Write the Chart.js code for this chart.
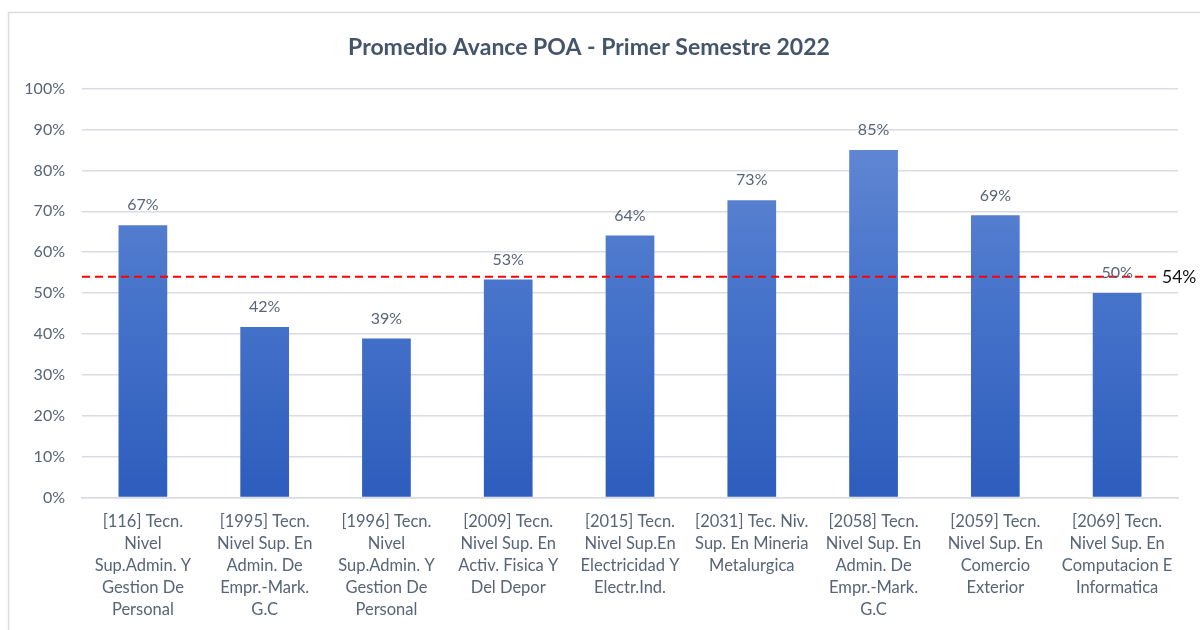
<!DOCTYPE html>
<html><head><meta charset="utf-8">
<script src="https://cdn.jsdelivr.net/npm/chart.js@4/dist/chart.umd.min.js"></script>
<style>html,body{margin:0;padding:0;background:#fff}#wrap{width:1200px;height:630px}</style>
</head><body><div id="wrap"><canvas id="c" width="1200" height="630"></canvas></div>
<script>
const categories = [
  ["[116] Tecn.","Nivel","Sup.Admin. Y","Gestion De","Personal"],
  ["[1995] Tecn.","Nivel Sup. En","Admin. De","Empr.-Mark.","G.C"],
  ["[1996] Tecn.","Nivel","Sup.Admin. Y","Gestion De","Personal"],
  ["[2009] Tecn.","Nivel Sup. En","Activ. Fisica Y","Del Depor"],
  ["[2015] Tecn.","Nivel Sup.En","Electricidad Y","Electr.Ind."],
  ["[2031] Tec. Niv.","Sup. En Mineria","Metalurgica"],
  ["[2058] Tecn.","Nivel Sup. En","Admin. De","Empr.-Mark.","G.C"],
  ["[2059] Tecn.","Nivel Sup. En","Comercio","Exterior"],
  ["[2069] Tecn.","Nivel Sup. En","Computacion E","Informatica"]
];
const avance = [66.6, 41.7, 38.9, 53.3, 64.1, 72.7, 85.0, 69.0, 50.0];
const referenceLine = [54];
const yTicks = [0,10,20,30,40,50,60,70,80,90,100];
const titleText = "Promedio Avance POA - Primer Semestre 2022";

const FONT = "Lato, 'Open Sans', sans-serif";
const TXT = "#586477";

const framePlugin = {
  id: 'frame',
  beforeDraw(chart) {
    const ctx = chart.ctx;
    ctx.save();
    ctx.strokeStyle = '#d9dce2';
    ctx.lineWidth = 1.5;
    ctx.strokeRect(8.5, 12.5, 1200, 640);
    ctx.restore();
  }
};

const refLinePlugin = {
  id: 'refLine',
  afterDatasetsDraw(chart) {
    const ctx = chart.ctx, y = chart.scales.y, a = chart.chartArea;
    referenceLine.forEach(v => {
      const py = y.getPixelForValue(v);
      ctx.save();
      ctx.strokeStyle = '#ff0000';
      ctx.lineWidth = 2;
      ctx.setLineDash([8, 5]);
      ctx.beginPath();
      ctx.moveTo(a.left, py);
      ctx.lineTo(a.right - 20, py);
      ctx.stroke();
      ctx.setLineDash([]);
      ctx.fillStyle = '#111';
      ctx.font = "17.5px " + FONT;
      ctx.textAlign = 'left';
      ctx.textBaseline = 'middle';
      ctx.fillText(Math.round(v) + '%', a.right - 16, py + 1);
      ctx.restore();
    });
  }
};

const labelPlugin = {
  id: 'barLabels',
  afterDatasetsDraw(chart) {
    const ctx = chart.ctx;
    const meta = chart.getDatasetMeta(0);
    ctx.save();
    ctx.fillStyle = TXT;
    ctx.font = "16px " + FONT;
    ctx.textAlign = 'center';
    ctx.textBaseline = 'middle';
    meta.data.forEach((bar, i) => {
      ctx.fillText(Math.round(avance[i]) + '%', bar.x, bar.y - 20);
    });
    ctx.restore();
  }
};

const ctx = document.getElementById('c').getContext('2d');
new Chart(ctx, {
  type: 'bar',
  data: {
    labels: categories,
    datasets: [{
      data: avance,
      backgroundColor: (c) => {
        const a = c.chart.chartArea;
        if (!a) return '#4472c4';
        const g = c.chart.ctx.createLinearGradient(0, a.top, 0, a.bottom);
        g.addColorStop(0, '#6a8ed4');
        g.addColorStop(0.45, '#4a76cc');
        g.addColorStop(1, '#2d5dbd');
        return g;
      },
      barPercentage: 0.4,
      categoryPercentage: 1.0,
      borderWidth: 0
    }]
  },
  options: {
    responsive: false,
    animation: false,
    devicePixelRatio: 1,
    layout: { padding: { left: 0, right: 22, top: 0, bottom: 0 } },
    plugins: {
      legend: { display: false },
      tooltip: { enabled: false },
      title: {
        display: true,
        text: titleText,
        color: '#44546a',
        font: { family: FONT, size: 23, weight: 'bold' },
        padding: { top: 34, bottom: 27 }
      }
    },
    scales: {
      x: {
        grid: { display: false, drawTicks: false },
        border: { display: true, color: '#d9dce2', width: 1.5 },
        ticks: {
          color: TXT,
          font: { family: FONT, size: 16.5, lineHeight: 1.333 },
          padding: 13,
          maxRotation: 0,
          autoSkip: false
        },
        afterFit(s) { s.height = 132.5; }
      },
      y: {
        min: 0, max: 100,
        afterBuildTicks(s) { s.ticks = yTicks.map(v => ({ value: v })); },
        grid: { color: '#d9dce2', lineWidth: 1.5, drawTicks: false },
        border: { display: false },
        ticks: {
          color: TXT,
          font: { family: FONT, size: 16 },
          padding: 17,
          callback: v => v + '%'
        },
        afterFit(s) { s.width = 82; }
      }
    }
  },
  plugins: [framePlugin, refLinePlugin, labelPlugin]
});
</script>
</body></html>
